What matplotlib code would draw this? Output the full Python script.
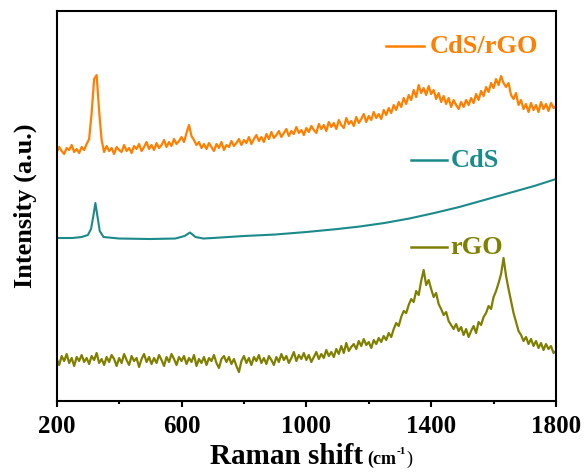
import numpy as np
import matplotlib.pyplot as plt

plt.rcParams['font.family'] = ['Liberation Serif', 'DejaVu Serif']
plt.rcParams['font.weight'] = 'bold'

# Raman shift grid (cm-1) for the noisy spectra
shift = np.arange(200, 1801, 8)

# CdS/rGO spectrum (offset, a.u.)
cds_rgo = [
    249, 254, 250, 247, 253, 251, 256, 249, 252, 248,
    254, 251, 257, 262, 288, 322, 326, 290, 261, 249,
    255, 250, 253, 247, 254, 251, 249, 256, 250, 253,
    248, 255, 252, 257, 250, 254, 259, 252, 256, 251,
    258, 253, 256, 261, 254, 259, 255, 262, 257, 260,
    264, 259, 268, 276, 265, 261, 256, 259, 253, 257,
    252, 258, 254, 250, 257, 253, 259, 251, 256, 254,
    260, 255, 258, 262, 256, 261, 258, 264, 257, 262,
    266, 260, 264, 259, 267, 262, 269, 263, 266, 270,
    264, 268, 272, 265, 270, 267, 274, 268, 271, 266,
    273, 269, 275, 271, 268, 277, 272, 276, 270, 279,
    274, 278, 272, 281, 276, 273, 283, 277, 280, 275,
    284, 278, 282, 287, 279, 285, 281, 289, 283, 287,
    282, 291, 286, 293, 288, 296, 291, 299, 294, 303,
    297, 306, 301, 311, 304, 316, 308, 313, 306, 315,
    307, 311, 302, 308, 299, 305, 297, 303, 294, 301,
    296, 292, 299, 294, 301, 296, 303, 298, 307, 301,
    310, 305, 314, 309, 318, 313, 322, 316, 325, 318,
    314, 318, 306, 302, 308, 296, 301, 292, 297, 289,
    298, 291, 296, 289, 299, 292, 297, 290, 298, 293,
    295,
]

# CdS spectrum (smooth, sampled at its own shifts)
cds_shift = [200, 250, 280, 300, 310, 318, 324, 330, 338, 350, 400, 500,
             580, 610, 627, 645, 670, 700, 800, 900, 1000, 1100, 1171,
             1250, 1330, 1410, 1490, 1570, 1650, 1730, 1800]
cds = [163, 163, 164, 166, 172, 186, 198, 186, 170, 164, 162.5, 162,
       162.5, 165, 168.5, 164, 162.5, 163, 165, 166.5, 169, 172, 174.5,
       178, 182.5, 188, 194, 201, 208, 215, 222]

# rGO spectrum
rgo = [
    42, 36, 45, 40, 47, 38, 43, 35, 44, 40,
    46, 39, 43, 37, 45, 41, 48, 38, 42, 36,
    44, 39, 46, 42, 35, 43, 38, 47, 41, 36,
    45, 40, 43, 34, 42, 47, 39, 44, 37, 43,
    38, 46, 41, 35, 44, 39, 47, 42, 36, 44,
    40, 45, 37, 43, 39, 46, 35, 42, 38, 44,
    36, 43, 40, 46, 38, 33, 42, 45, 39, 44,
    37, 42, 35, 29, 40, 45, 38, 43, 36, 44,
    40, 46, 38, 43, 37, 45, 41, 36, 44, 39,
    47, 41, 45, 38, 43, 49, 40, 46, 42, 48,
    41, 46, 39, 44, 49, 42, 47, 43, 51, 45,
    49, 44, 52, 47, 55, 48, 58, 50, 54, 57,
    52, 60, 55, 62, 56, 59, 53, 61, 57, 63,
    59, 65, 61, 68, 64, 72, 78, 75, 84, 90,
    88, 96, 102, 99, 110, 106, 120, 131, 116, 121,
    112, 104, 108, 97, 92, 86, 89, 80, 76, 72,
    77, 70, 74, 66, 72, 64, 70, 75, 68, 79,
    76, 84, 88, 95, 92, 104, 110, 118, 127, 143,
    125, 112, 100, 88, 79, 70, 66, 60, 64, 57,
    62, 55, 60, 53, 58, 51, 57, 52, 55, 48,
    50,
]

labels = ['CdS/rGO', 'CdS', 'rGO']
colors = ['#FF8000', '#1A8A8A', '#808000']

fig = plt.figure(figsize=(5.85, 4.73), dpi=100)
ax = fig.add_axes([0.0969, 0.1522, 0.8535, 0.8245])

ax.plot(shift, cds_rgo, color=colors[0], lw=1.6)
ax.plot(cds_shift, cds, color=colors[1], lw=1.5)
ax.plot(shift, rgo, color=colors[2], lw=1.6)

ax.set_xlim(200, 1800)
ax.set_ylim(0, 390)
ax.set_xticks([200, 600, 1000, 1400, 1800])
ax.set_xticks([400, 800, 1200, 1600], minor=True)
ax.set_yticks([])
ax.tick_params(axis='x', which='major', direction='out', length=4, width=1.5,
               labelsize=18, pad=6)
ax.tick_params(axis='x', which='minor', direction='out', length=2.5, width=1.5)
for s in ax.spines.values():
    s.set_linewidth(1.5)

# in-plot labels with short line segments
leg_pos = [(1256, 1378, 1394, 355), (1334, 1452, 1462, 241), (1334, 1452, 1462, 154)]
for (x0, x1, xt, y), lab, c in zip(leg_pos, labels, colors):
    ax.plot([x0, x1], [y, y], color=c, lw=1.8)
    ax.text(xt, y, lab, color=c, fontsize=19, fontweight='bold', va='center', ha='left')

fig.text(25 / 585, 1 - 206 / 473, 'Intensity (a.u.)', rotation=90, fontsize=19,
         fontweight='bold', ha='center', va='center')
fig.text(210 / 585, 1 - 464 / 473, 'Raman shift', fontsize=21, fontweight='bold',
         ha='left', va='baseline')
fig.text(367 / 585, 1 - 464 / 473, '(cm', fontsize=13, fontweight='bold',
         ha='left', va='baseline')
fig.text(397 / 585, 1 - 454 / 473, '-1', fontsize=8, fontweight='bold',
         ha='left', va='baseline')
fig.text(406 / 585, 1 - 464 / 473, ')', fontsize=13, fontweight='normal',
         ha='left', va='baseline')

fig.savefig('out.png', dpi=100)
